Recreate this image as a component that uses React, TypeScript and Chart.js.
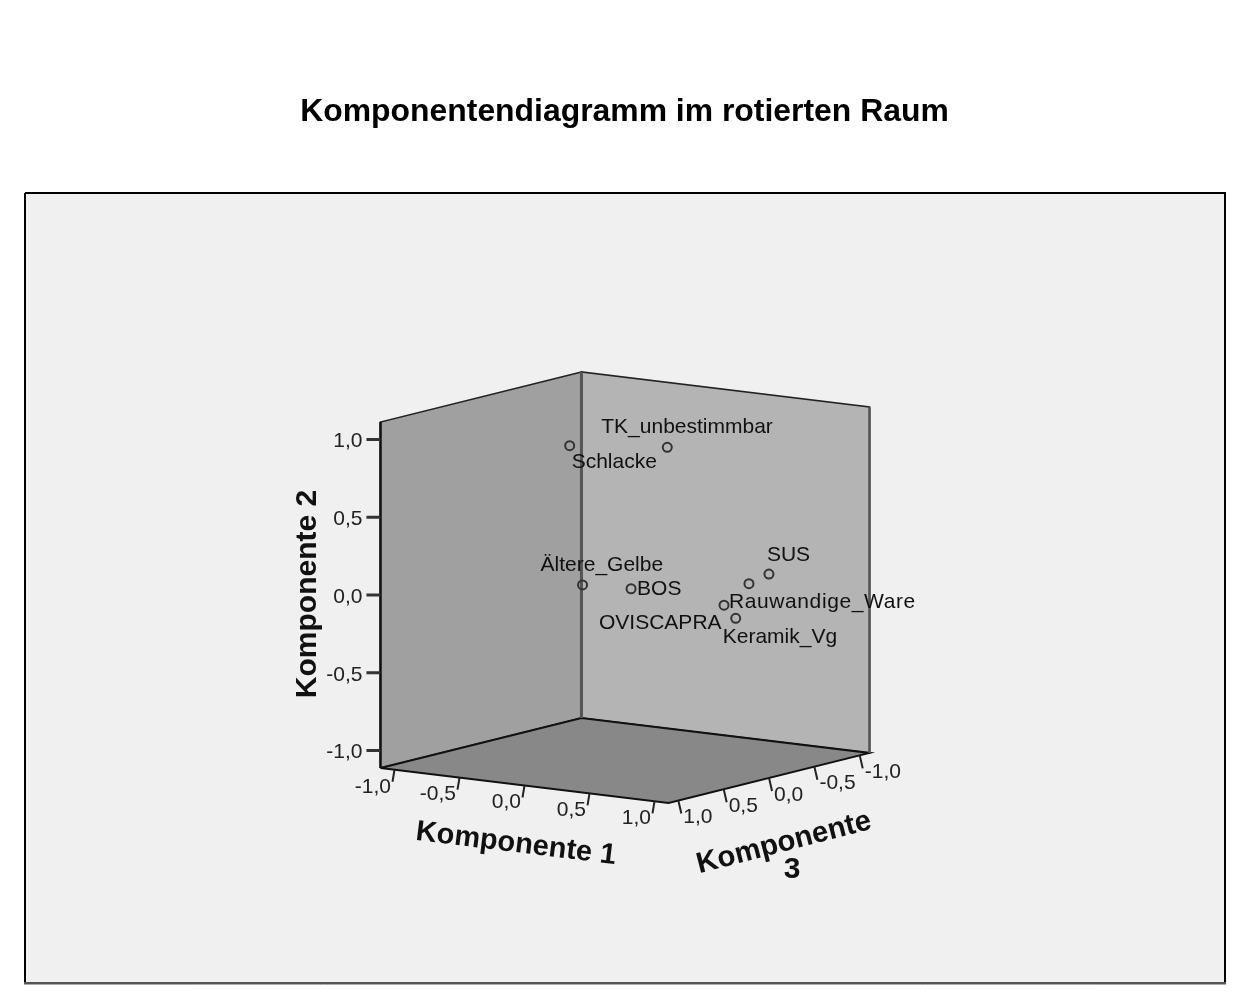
import React, { useEffect, useRef } from "react";
import { Chart, registerables } from "chart.js";

Chart.register(...registerables);

// Data
const variables = ["TK_unbestimmbar", "Schlacke", "Ältere_Gelbe", "BOS", "SUS", "Rauwandige_Ware", "OVISCAPRA", "Keramik_Vg"];
const komponente1 = [0.395, -0.286, 0.092, 0.535, 0.898, 0.814, 0.657, 0.782];
const komponente2 = [0.956, 0.912, 0.113, 0.148, 0.134, 0.078, -0.069, -0.133];
const komponente3 = [0.1, 0.2, 0.6, 0.7, -0.3, -0.2, -0.15, -0.1];
const tickValues = [-1, -0.5, 0, 0.5, 1];
const tickLabels = ["-1,0", "-0,5", "0,0", "0,5", "1,0"];
const chartTitle = "Komponentendiagramm im rotierten Raum";
const axisNames = ["Komponente 1", "Komponente 2", "Komponente", "3"];

// Layout: label offsets from each point (px), in the same order as `variables`
const labelOffsets: [number, number][] = [
  [-66, -20], [2, 17], [-42, -20], [6, 0], [-2, -19], [-20, 19], [-125, 18], [-13, 19],
];
const labelSpacing = [0, 0, 0, 0, 0, 0.6, 0, 0];

const R = 1.108;
const RY = 1.1125;
const project = (c1: number, c2: number, c3: number) => ({
  x: 625 + 130 * c1 - 90.7 * c3,
  y: 587.5 + 15.8 * c1 + 22.6 * c3 - 155.5 * c2,
});
const gap = { x: NaN, y: NaN };

const wallLeft = [project(-R, -RY, R), project(-R, -RY, -R), project(-R, RY, -R), project(-R, RY, R), project(-R, -RY, R)];
const wallRight = [project(-R, -RY, -R), project(R, -RY, -R), project(R, RY, -R), project(-R, RY, -R), project(-R, -RY, -R)];
const floor = [project(-R, -RY, R), project(R, -RY, R), project(R, -RY, -R), project(-R, -RY, -R), project(-R, -RY, R)];
const panel = [{ x: 25, y: 193 }, { x: 1225, y: 193 }, { x: 1225, y: 983 }, { x: 25, y: 983 }, { x: 25, y: 193 }];
const panelBottom = [{ x: 24, y: 983 }, { x: 1226, y: 983 }];
const panelShadow = [{ x: 24, y: 984.5 }, { x: 1226, y: 984.5 }];

const ticks1 = tickValues.flatMap((t) => {
  const a = project(t, -RY, R);
  return [a, { x: a.x - 2, y: a.y + 12 }, gap];
});
const ticks3 = tickValues.flatMap((t) => {
  const a = project(R, -RY, t);
  return [a, { x: a.x + 3, y: a.y + 13 }, gap];
});
const ticks2 = tickValues.flatMap((t) => {
  const a = project(-R, t, R);
  return [a, { x: a.x - 14, y: a.y }, gap];
});

const line = (data: any[], color: string, width: number, fill?: string) => ({
  type: "scatter" as const,
  data,
  showLine: true,
  borderColor: color,
  borderWidth: width,
  backgroundColor: fill ?? "transparent",
  fill: fill ? "shape" : false,
  pointRadius: 0,
  pointHoverRadius: 0,
  tension: 0,
  clip: false,
  spanGaps: false,
});

const FONT = '"Liberation Sans", Arial, sans-serif';

const textPlugin = {
  id: "sceneText",
  afterDatasetsDraw(chart: any) {
    const { ctx, scales } = chart;
    const px = (p: { x: number; y: number }) => ({ x: scales.x.getPixelForValue(p.x), y: scales.y.getPixelForValue(p.y) });
    const put = (s: string, x: number, y: number, font: string, align: CanvasTextAlign = "center", rot = 0, color = "#111", spacing = 0) => {
      ctx.save();
      ctx.translate(x, y);
      ctx.rotate((rot * Math.PI) / 180);
      ctx.font = font;
      ctx.letterSpacing = `${spacing}px`;
      ctx.fillStyle = color;
      ctx.textAlign = align;
      ctx.textBaseline = "middle";
      ctx.fillText(s, 0, 0);
      ctx.restore();
    };
    const small = `21px ${FONT}`;
    const bold = `bold 30px ${FONT}`;
    const tickColor = "#222";

    tickValues.forEach((t, i) => {
      const a = px(project(-R, t, R));
      put(tickLabels[i], a.x - 18, a.y + 2, small, "right", 0, tickColor);
      const b = px(project(t, -RY, R));
      put(tickLabels[i], b.x - 3.5, b.y + 17, small, "right", 0, tickColor);
      const c = px(project(R, -RY, t));
      put(tickLabels[i], c.x + 5, c.y + 17, small, "left", 0, tickColor);
    });

    variables.forEach((name, i) => {
      const p = px(project(komponente1[i], komponente2[i], komponente3[i]));
      put(name, p.x + labelOffsets[i][0], p.y + labelOffsets[i][1], small, "left", 0, "#111", labelSpacing[i]);
    });

    put(axisNames[0], 516, 844, `bold 29px ${FONT}`, "center", 7);
    put(axisNames[1], 308, 594, bold, "center", -90);
    put(axisNames[2], 784, 843, `bold 29.3px ${FONT}`, "center", -14.5);
    put(axisNames[3], 792, 870, bold, "center", 0);
  },
};

export default function App() {
  const ref = useRef<HTMLCanvasElement>(null);
  useEffect(() => {
    if (!ref.current) return;
    const chart = new Chart(ref.current, {
      type: "scatter",
      data: {
        datasets: [
          {
            label: "Variablen",
            data: variables.map((_, i) => project(komponente1[i], komponente2[i], komponente3[i])),
            pointRadius: 4.5,
            pointBorderWidth: 2,
            pointBorderColor: "#333",
            pointBackgroundColor: "transparent",
            clip: false,
          } as any,
          line(ticks1, "#222", 2),
          line(ticks2, "#333", 3),
          line(ticks3, "#222", 2),
          line([project(-R, -RY, -R), project(-R, RY, -R)], "#555", 3),
          line([project(-R, -RY, R), project(-R, RY, R)], "#111", 2.5),
          line([project(R, -RY, -R), project(R, RY, -R)], "#555", 2.5),
          line(floor, "#111", 2, "#888888"),
          line(wallRight, "#222", 1.5, "#b4b4b4"),
          line(wallLeft, "#222", 1.5, "#a0a0a0"),
          line(panelBottom, "#555", 2),
          line(panelShadow, "#aaa", 1),
          line(panel, "#000", 2, "#f0f0f0"),
        ],
      },
      options: {
        animation: false,
        responsive: false,
        devicePixelRatio: 1,
        layout: { padding: 0, autoPadding: false },
        scales: {
          x: { type: "linear", min: 0, max: 1249, display: false },
          y: { type: "linear", min: 175, max: 1000, reverse: true, display: false },
        },
        plugins: {
          legend: { display: false },
          tooltip: { enabled: false },
          title: {
            display: true,
            text: chartTitle,
            color: "#000",
            font: { family: FONT, size: 31.9, weight: "bold", lineHeight: 1.2 },
            padding: { top: 93, bottom: 43.7 },
          },
        },
      } as any,
      plugins: [textPlugin],
    });
    return () => chart.destroy();
  }, []);
  return (
    <div style={{ position: "absolute", left: 0, top: 0, width: 1249, height: 1000 }}>
      <canvas ref={ref} width={1249} height={1000} style={{ display: "block" }} />
    </div>
  );
}
